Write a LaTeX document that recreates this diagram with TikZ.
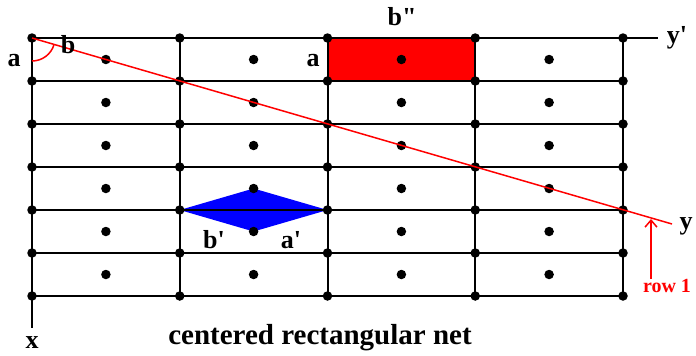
\documentclass[tikz,border=0pt]{standalone}
\usepackage{fontspec}
\setmainfont{Liberation Serif}
\usetikzlibrary{arrows.meta}
\begin{document}
\begin{tikzpicture}[x=1pt,y=-1pt,
  gridline/.style={line width=2pt,black},
  dotmark/.style={circle,fill=black,inner sep=0pt,minimum size=9.5pt},
  lbl/.style={font=\bfseries\fontsize{26}{28}\selectfont,inner sep=0pt},
  redline/.style={red,line width=1.5pt}]
\useasboundingbox (0,0) rectangle (696,356);
% named lattice points
\foreach \i/\x in {0/32,1/179.75,2/327.5,3/475.25,4/623}{
  \foreach \j/\y in {0/38,1/81,2/124,3/167,4/210,5/253,6/296}{
    \coordinate (p\i\j) at (\x,\y);
  }
}
\coordinate (topend) at (658,38);
\coordinate (leftend) at (32,328);
% filled cells
\fill[red] (p20) rectangle (p31);
\coordinate (dtop) at (253.6,188.5);
\coordinate (dbot) at (253.6,231.5);
\fill[blue] (p14) -- (dtop) -- (p24) -- (dbot) -- cycle;
% grid
\foreach \j in {1,...,6}{ \draw[gridline] (p0\j) -- (p4\j); }
\draw[gridline] (p00) -- (topend);
\foreach \i in {1,...,4}{ \draw[gridline] (p\i0) -- (p\i6); }
\draw[gridline] (p00) -- (leftend);
% dots at lattice points
\foreach \i in {0,...,4}{
  \foreach \j in {0,...,6}{ \node[dotmark] (n\i\j) at (p\i\j) {}; }
}
% centered dots
\foreach \i/\x in {0/105.9,1/253.6,2/401.4,3/549.1}{
  \foreach \j/\y in {0/59.5,1/102.5,2/145.5,3/188.5,4/231.5,5/274.5}{
    \node[dotmark] (c\i\j) at (\x,\y) {};
  }
}
% red diagonal line
\coordinate (lineend) at (672,224);
\draw[redline] (p00) -- (lineend);
\draw[redline] (p00) ++(90:23) arc[start angle=90,end angle=16.2,radius=23];
% arrow
\coordinate (arrbot) at (651,279);
\coordinate (arrtop) at (651,219);
\draw[redline,-{Straight Barb[length=7pt,width=12pt]}] (arrbot) -- (arrtop);
% labels
\node[lbl] (la) at (14,61) {a};
\node[lbl] (lb) at (68,45) {b};
\node[lbl] (lbpp) at (402,17) {b\textquotedbl};
\node[lbl] (la2) at (313,61) {a};
\node[lbl] (lbp) at (214,240) {b\textquotesingle};
\node[lbl] (lap) at (291,240) {a\textquotesingle};
\node[lbl] (lyp) at (677,38) {y\textquotesingle};
\node[lbl] (ly) at (686,226) {y};
\node[lbl] (lx) at (32,343) {x};
\node[lbl,red,font=\bfseries\fontsize{20}{22}\selectfont] (lrow) at (667,286) {row 1};
\node[lbl,font=\bfseries\fontsize{29}{32}\selectfont] (cap) at (320,338) {centered rectangular net};
\end{tikzpicture}
\end{document}
